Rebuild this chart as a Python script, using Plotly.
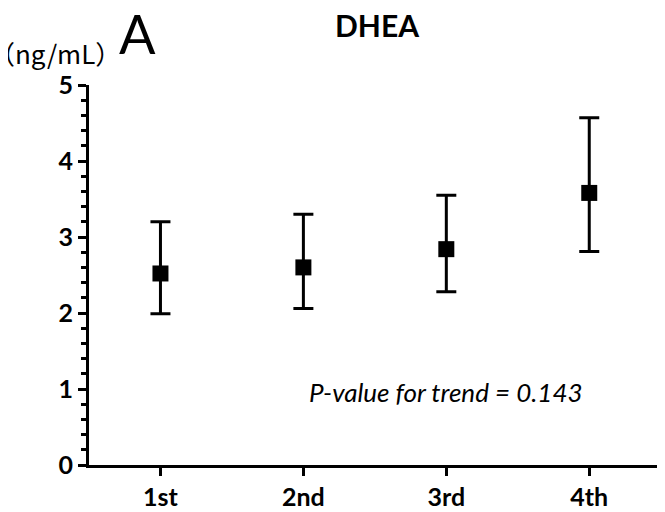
import plotly.graph_objects as go

categories = ["1st", "2nd", "3rd", "4th"]
means = [2.52, 2.60, 2.84, 3.58]
upper = [3.20, 3.30, 3.55, 4.57]
lower = [1.99, 2.06, 2.28, 2.81]

err_plus = [u - m for u, m in zip(upper, means)]
err_minus = [m - l for m, l in zip(means, lower)]

FONT = "Lato, 'Noto Sans', 'Liberation Sans', sans-serif"

# page body has an 8px default margin; compensate so the plot area lands at
# x 89..665, y 85..465 in the window
OFF = 8
PL, PR, PT, PB = 89, 665, 85, 465
PW, PH = PR - PL, PB - PT


def px(x):
    return (x - PL) / PW


def py(y):
    return (PB - y) / PH


fig = go.Figure()
fig.add_trace(go.Scatter(
    x=categories, y=means, mode="markers",
    marker=dict(symbol="square", size=16, color="black"),
    error_y=dict(type="data", symmetric=False, array=err_plus, arrayminus=err_minus,
                 thickness=3, width=10, color="black"),
    showlegend=False,
))

fig.update_layout(
    width=665, height=512,
    margin=dict(l=PL - OFF, r=665 - PR + OFF, t=PT - OFF, b=512 - PB + OFF, autoexpand=False),
    paper_bgcolor="white", plot_bgcolor="white",
    font=dict(family=FONT, color="black"),
    xaxis=dict(
        type="category", range=[-0.5, 3.53], automargin=False,
        showline=True, linecolor="black", linewidth=3,
        ticks="outside", ticklen=8, tickwidth=3, tickcolor="black",
        showgrid=False, zeroline=False,
        tickfont=dict(family=FONT, size=25, color="black", weight="bold"),
    ),
    yaxis=dict(
        range=[0, 5], tickvals=[0, 1, 2, 3, 4, 5], automargin=False,
        showline=True, linecolor="black", linewidth=3,
        ticks="outside", ticklen=8, tickwidth=3, tickcolor="black",
        minor=dict(dtick=0.2, ticks="outside", ticklen=5, tickwidth=3, tickcolor="black", showgrid=False),
        showgrid=False, zeroline=False,
        tickfont=dict(family=FONT, size=25, color="black", weight="bold"),
    ),
    annotations=[
        dict(text="<b>DHEA</b>", x=px(377), y=py(25), xref="paper", yref="paper",
             xanchor="center", yanchor="middle",
             showarrow=False, font=dict(family=FONT, size=30, color="black")),
        dict(text="A", x=px(137), y=py(33), xref="paper", yref="paper",
             xanchor="center", yanchor="middle",
             showarrow=False, font=dict(family=FONT, size=54, color="black")),
        dict(text="（ng/mL）", x=px(123), y=py(53), xref="paper", yref="paper",
             xanchor="right", yanchor="middle",
             showarrow=False, font=dict(family="'Noto Sans CJK JP', " + FONT, size=26, color="black")),
        dict(text="<i>P-value for trend = 0.143</i>", x=2.0, y=(PB - 392) / 76, xref="x", yref="y",
             xanchor="center", yanchor="middle",
             showarrow=False, font=dict(family=FONT, size=26, color="black")),
    ],
)

fig.write_html("out.html")
